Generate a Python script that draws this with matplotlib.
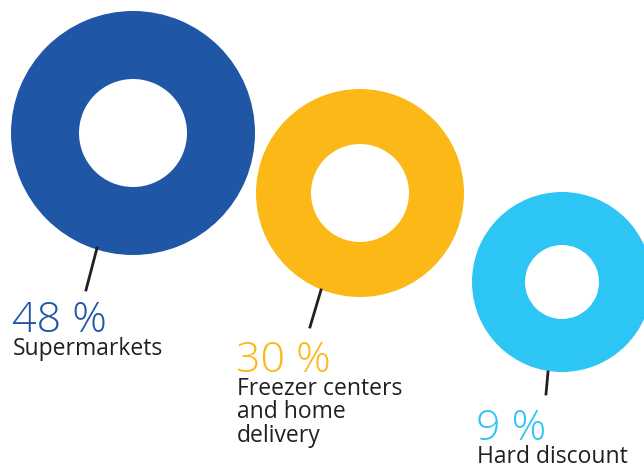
import matplotlib.pyplot as plt
from matplotlib.patches import Wedge

# shares per channel
shares = [48, 30, 9]
labels = ['Supermarkets', 'Freezer centers\nand home\ndelivery', 'Hard discount']
colors = ['#1f56a6', '#fbb817', '#2cc5f4']

# layout (pixels, y down)
centers = [(133, 133), (360, 193), (562, 282)]
outer_r = [122, 104, 90]
inner_r = [54, 49, 37]
leaders = [((97, 248), (86, 290)), ((321, 290), (310, 327)), ((548, 372), (546, 394))]
text_xy = [(12, 332), (236, 372), (476, 440)]

plt.rcParams['font.family'] = ['Open Sans', 'DejaVu Sans']

fig = plt.figure(figsize=(6.44, 4.65), dpi=100)
ax = fig.add_axes([0, 0, 1, 1])
ax.set_xlim(0, 644)
ax.set_ylim(465, 0)
ax.set_aspect('equal')
ax.axis('off')

for share, lab, c, ctr, ro, ri, ld, txy in zip(shares, labels, colors, centers,
                                                outer_r, inner_r, leaders, text_xy):
    ax.add_patch(Wedge(ctr, ro, 0, 360, width=ro - ri, color=c, lw=0))
    ax.plot([ld[0][0], ld[1][0]], [ld[0][1], ld[1][1]], color='#231f20', lw=2)
    ax.text(txy[0], txy[1], f'{share} %', color=c, fontsize=31, fontweight='light',
            va='baseline', ha='left')
    ax.text(txy[0] + 1, txy[1] + 5, lab, color='#231f20', fontsize=16.5, va='top',
            ha='left', linespacing=0.96)

fig.savefig('out.png', dpi=100)
